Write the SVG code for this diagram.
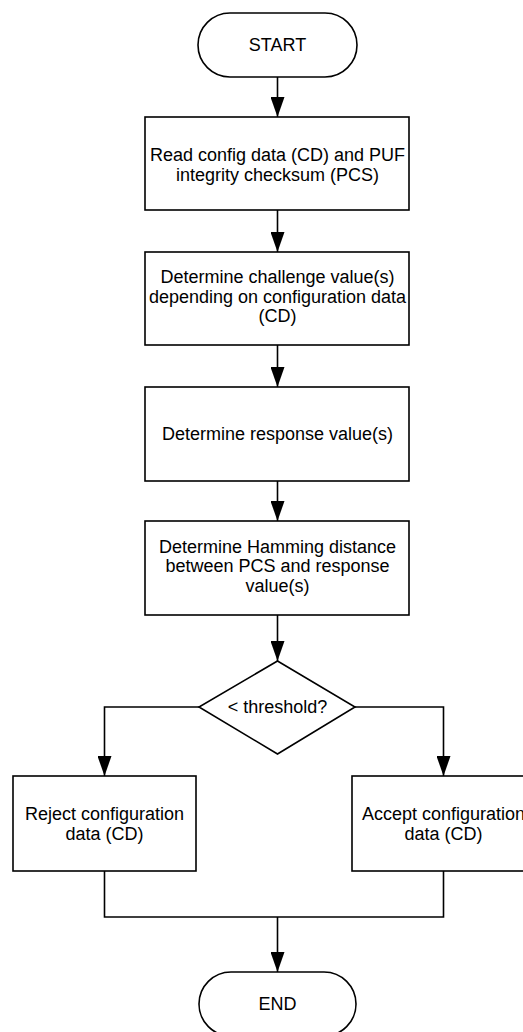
<svg xmlns="http://www.w3.org/2000/svg" width="523" height="1032" viewBox="0 0 523 1032">
<style>
.shape{fill:#fff;stroke:#000;stroke-width:1.6}
.conn{fill:none;stroke:#000;stroke-width:1.6}
text{font-family:"Liberation Sans",Arial,sans-serif;font-size:18px;fill:#000;text-anchor:middle}
</style>
<defs>
<marker id="arr" viewBox="0 0 20 14" refX="20" refY="7" markerWidth="20" markerHeight="14" markerUnits="userSpaceOnUse" orient="auto">
<path d="M0,0 L20,7 L0,14 Z" fill="#000"/>
</marker>
</defs>
<rect width="523" height="1032" fill="#fff"/>
<g id="connectors">
<line class="conn" x1="277.5" y1="77" x2="277.5" y2="117" marker-end="url(#arr)"/>
<line class="conn" x1="277.5" y1="210" x2="277.5" y2="252" marker-end="url(#arr)"/>
<line class="conn" x1="277.5" y1="345" x2="277.5" y2="387" marker-end="url(#arr)"/>
<line class="conn" x1="277.5" y1="481" x2="277.5" y2="521" marker-end="url(#arr)"/>
<line class="conn" x1="277.5" y1="615" x2="277.5" y2="661" marker-end="url(#arr)"/>
<polyline class="conn" points="199,707 104.5,707 104.5,776" marker-end="url(#arr)"/>
<polyline class="conn" points="355,707 443.5,707 443.5,776" marker-end="url(#arr)"/>
<polyline class="conn" points="104.5,871 104.5,917 443.5,917 443.5,871"/>
<line class="conn" x1="277.5" y1="917" x2="277.5" y2="972" marker-end="url(#arr)"/>
</g>
<g id="start">
<rect class="shape" x="198" y="13" width="159" height="64" rx="32" ry="32"/>
<text x="277.5" y="51">START</text>
</g>
<g id="read">
<rect class="shape" x="145" y="117" width="264" height="93"/>
<text x="277.5" y="160.5">Read config data (CD) and PUF</text>
<text x="277.5" y="180.5">integrity checksum (PCS)</text>
</g>
<g id="challenge">
<rect class="shape" x="145" y="252" width="264" height="93"/>
<text x="277.5" y="283">Determine challenge value(s)</text>
<text x="277.5" y="302.5">depending on configuration data</text>
<text x="277.5" y="322">(CD)</text>
</g>
<g id="response">
<rect class="shape" x="145" y="387" width="264" height="94"/>
<text x="277.5" y="440">Determine response value(s)</text>
</g>
<g id="hamming">
<rect class="shape" x="145" y="521" width="264" height="94"/>
<text x="277.5" y="552.5">Determine Hamming distance</text>
<text x="277.5" y="572">between PCS and response</text>
<text x="277.5" y="591.5">value(s)</text>
</g>
<g id="decision">
<polygon class="shape" points="277.5,661 355,707 277.5,754 199,707"/>
<text x="277.5" y="713">&lt; threshold?</text>
</g>
<g id="reject">
<rect class="shape" x="13" y="776" width="183" height="95"/>
<text x="104.5" y="819.5">Reject configuration</text>
<text x="104.5" y="839.5">data (CD)</text>
</g>
<g id="accept">
<rect class="shape" x="352" y="776" width="183" height="95"/>
<text x="443.5" y="819.5">Accept configuration</text>
<text x="443.5" y="839.5">data (CD)</text>
</g>
<g id="end">
<rect class="shape" x="199" y="972" width="157" height="64" rx="32" ry="32"/>
<text x="277.5" y="1010">END</text>
</g>
</svg>
